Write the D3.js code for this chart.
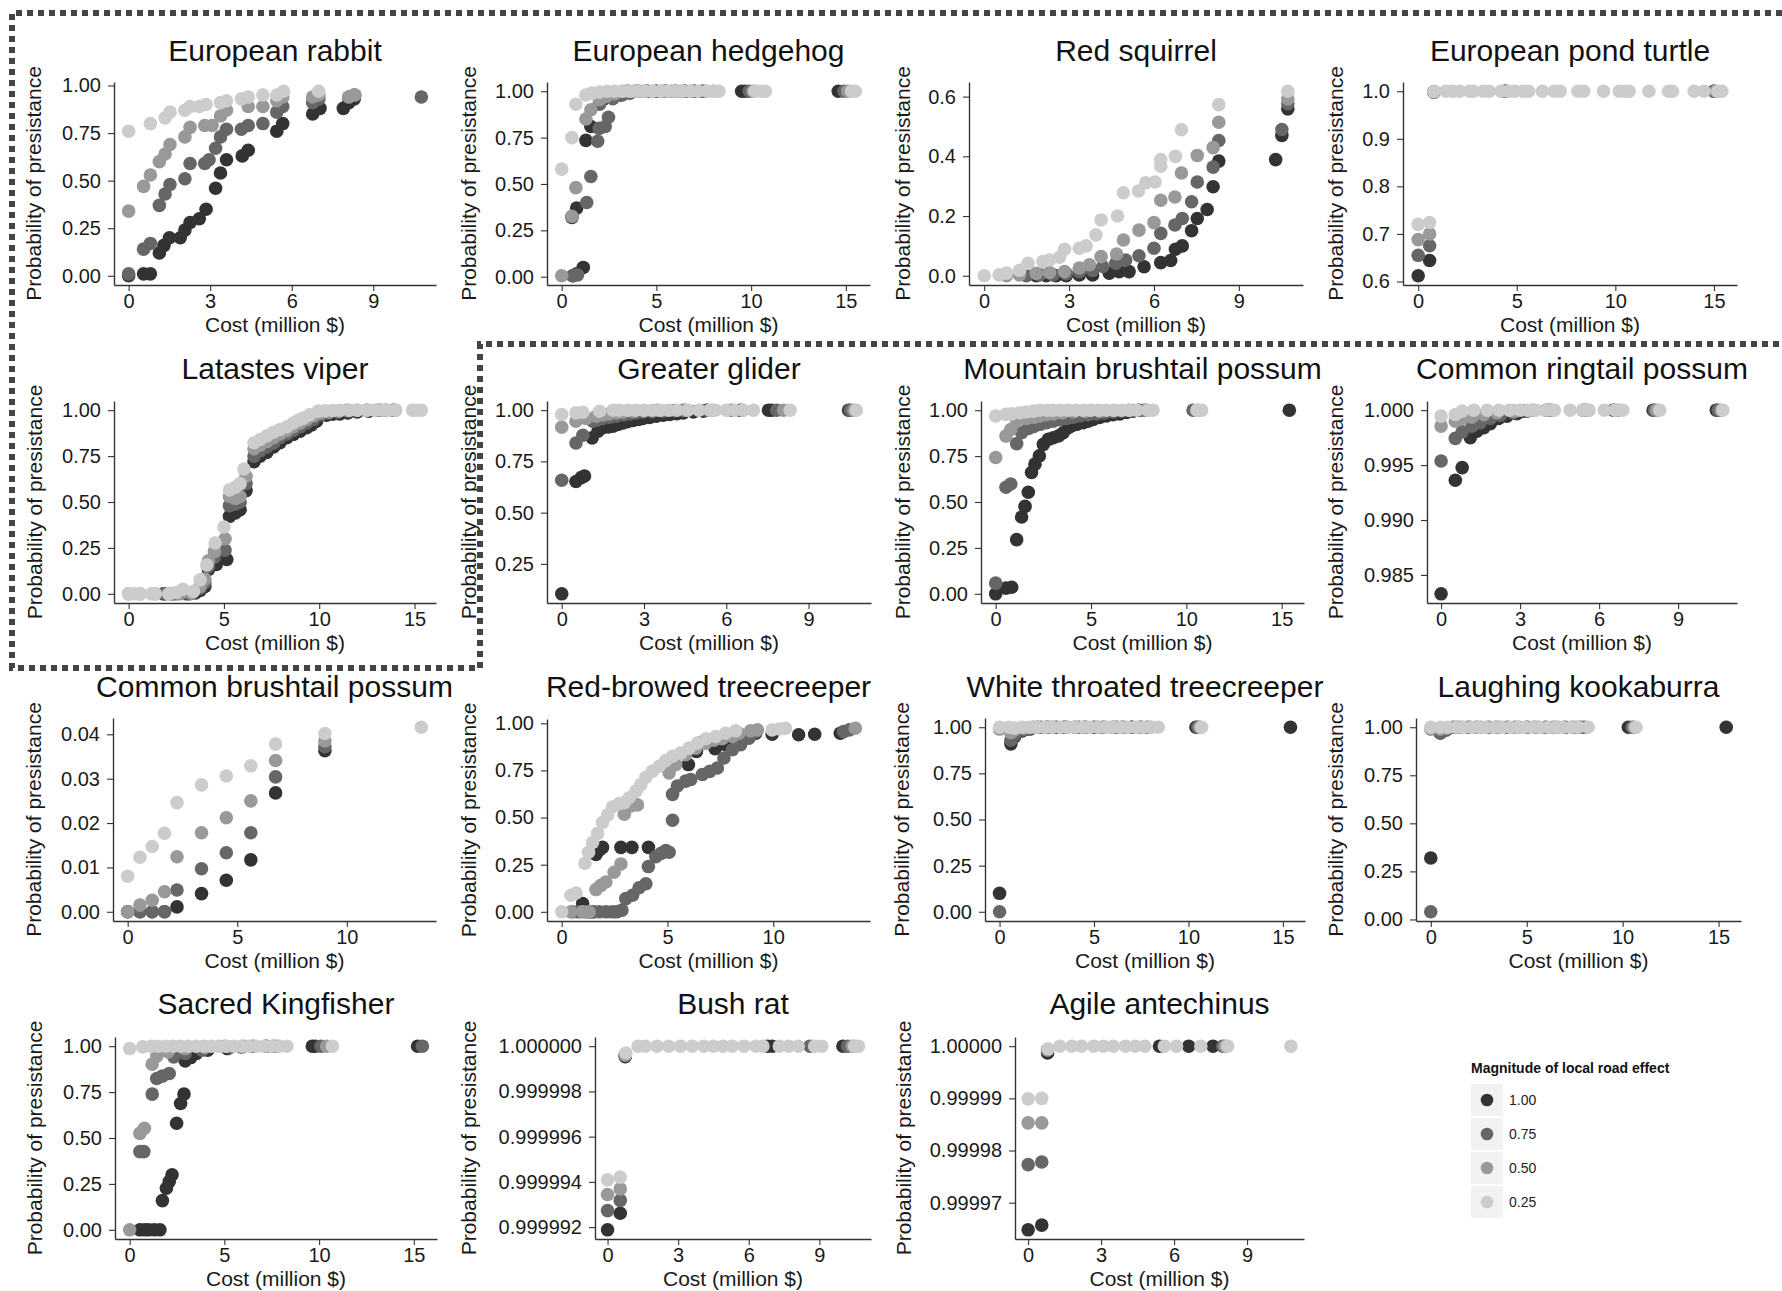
<!DOCTYPE html>
<html>
<head>
<meta charset="utf-8">
<script src="https://cdn.jsdelivr.net/npm/d3@7"></script>
<style>
    body { margin: 0; background: #fff; }
    svg { display: block; font-family: "Liberation Sans", Arial, sans-serif; }
</style>
</head>
<body>
<div id="chart"></div>
<script>

// ---- data: each species holds 4 series, in the order of the magnitudes below ----
const magnitudes = ["1.00", "0.75", "0.50", "0.25"];

const speciesNames = [
    "European rabbit", "European hedgehog", "Red squirrel", "European pond turtle",
    "Latastes viper", "Greater glider", "Mountain brushtail possum", "Common ringtail possum",
    "Common brushtail possum", "Red-browed treecreeper", "White throated treecreeper", "Laughing kookaburra",
    "Sacred Kingfisher", "Bush rat", "Agile antechinus"
];

const rabbit = [
    [[0,0.0],[0.55,0.01],[0.8,0.01],[1.13,0.12],[1.3,0.16],[1.5,0.2],[1.9,0.2],[2.07,0.24],[2.26,0.28],[2.6,0.3],[2.85,0.35],[3.2,0.46],[3.38,0.54],[3.6,0.61],[4.18,0.63],[4.4,0.66],[5.45,0.76],[5.67,0.8],[6.77,0.85],[7.04,0.88],[7.9,0.88],[8.1,0.91],[8.3,0.93]],
    [[0,0.01],[0.55,0.14],[0.8,0.17],[1.13,0.37],[1.34,0.43],[1.52,0.48],[2.07,0.51],[2.26,0.59],[2.8,0.59],[2.96,0.61],[3.2,0.67],[3.38,0.73],[3.6,0.77],[4.15,0.77],[4.4,0.79],[4.94,0.8],[5.45,0.86],[5.67,0.89],[6.77,0.91],[7.0,0.93],[8.1,0.94],[8.3,0.95],[10.77,0.94]],
    [[0,0.34],[0.55,0.47],[0.8,0.53],[1.13,0.6],[1.34,0.64],[1.52,0.69],[2.07,0.73],[2.26,0.78],[2.8,0.79],[3.07,0.79],[3.38,0.84],[3.6,0.87],[4.4,0.89],[4.94,0.89],[5.45,0.92],[5.67,0.94],[6.77,0.94],[7.0,0.95],[8.1,0.94],[8.33,0.95]],
    [[0,0.76],[0.8,0.8],[1.34,0.83],[1.52,0.86],[2.07,0.87],[2.26,0.89],[2.6,0.89],[2.85,0.9],[3.38,0.91],[3.6,0.92],[4.15,0.93],[4.4,0.94],[4.94,0.95],[5.45,0.95],[5.7,0.97],[6.99,0.97]]
];

const hedgehog = [
    [[0.58,0.005],[0.79,0.015],[1.14,0.05],[0.54,0.32],[0.79,0.37],[1.28,0.735],[1.54,0.81],[2.0,0.94],[2.25,0.96],[2.7,0.97],[3.1,0.98],[3.5,1],[4.0,1],[4.5,1],[5.0,1],[5.5,1],[6.0,1],[6.5,1],[7.0,1],[7.4,1],[9.5,1],[9.7,1],[14.6,1]],
    [[0.58,0.005],[0.84,0.01],[1.32,0.40],[1.54,0.54],[1.9,0.73],[1.98,0.80],[2.3,0.81],[2.47,0.86],[2.0,0.93],[2.7,0.96],[3.2,0.98],[3.6,0.99],[4.0,1],[4.5,1],[5.0,1],[5.5,1],[6.0,1],[6.5,1],[7.0,1],[7.5,1],[9.9,1],[14.9,1]],
    [[0,0.005],[0.54,0.325],[0.75,0.48],[1.28,0.85],[1.54,0.9],[2.0,0.955],[2.33,0.97],[2.8,0.985],[3.3,1],[3.8,1],[4.3,1],[4.8,1],[5.3,1],[5.8,1],[6.3,1],[6.8,1],[7.6,1],[8.0,1],[10.1,1],[15.1,1]],
    [[0,0.58],[0.54,0.75],[0.75,0.93],[1.28,0.98],[1.6,0.99],[2.0,0.995],[2.4,1],[2.8,1],[3.2,1],[3.6,1],[4.0,1],[4.4,1],[4.8,1],[5.2,1],[5.6,1],[6.0,1],[6.4,1],[6.8,1],[7.2,1],[7.7,1],[8.0,1],[8.3,1],[10.2,1],[10.5,1],[10.75,1],[15.3,1],[15.5,1]]
];

const squirrel = [
    [[1.84,0],[2.19,0],[2.54,0],[2.9,0],[3.36,0.003],[3.83,0.003],[4.42,0.009],[4.77,0.014],[5.12,0.014],[5.65,0.03],[6.24,0.044],[6.59,0.051],[6.76,0.089],[7.0,0.1],[7.33,0.151],[7.53,0.192],[7.88,0.222],[8.09,0.298],[8.29,0.384],[10.3,0.389],[10.52,0.47],[10.73,0.559]],
    [[1.49,0],[1.96,0.003],[2.43,0.003],[2.9,0.007],[3.36,0.014],[3.83,0.018],[4.19,0.031],[4.65,0.042],[5.0,0.053],[5.47,0.067],[6.0,0.092],[6.24,0.142],[6.74,0.17],[7.0,0.192],[7.33,0.248],[7.53,0.314],[8.09,0.364],[8.29,0.453],[10.52,0.49],[10.73,0.576]],
    [[0.79,0],[1.25,0.003],[1.84,0.008],[2.31,0.011],[2.84,0.014],[3.36,0.026],[3.72,0.037],[4.13,0.064],[4.68,0.073],[4.92,0.12],[5.47,0.153],[6.0,0.178],[6.24,0.253],[6.74,0.264],[6.97,0.344],[7.53,0.403],[8.09,0.429],[8.29,0.514],[10.73,0.592]],
    [[0,0],[0.53,0.003],[0.79,0.009],[1.25,0.018],[1.55,0.042],[2.07,0.048],[2.31,0.053],[2.66,0.062],[2.84,0.089],[3.36,0.092],[3.6,0.1],[3.95,0.137],[4.13,0.187],[4.71,0.2],[4.92,0.278],[5.45,0.284],[5.71,0.311],[6.04,0.314],[6.24,0.367],[6.24,0.389],[6.76,0.4],[6.97,0.489],[8.29,0.573],[10.73,0.618]]
];

const turtle = [
    [[0,0.612],[0.58,0.644],[0.8,0.998],[4.4,1],[15.0,1]],
    [[0,0.655],[0.58,0.675],[0.8,0.999],[4.4,1],[15.0,1]],
    [[0,0.688],[0.58,0.70],[0.8,0.999],[4.5,1],[15.1,1]],
    [[0,0.72],[0.58,0.724],[0.8,0.999],[1.4,1],[1.75,1],[2.1,1],[2.6,1],[2.8,1],[3.3,1],[3.6,1],[4.2,1],[4.6,1],[4.9,1],[5.3,1],[5.6,1],[6.3,1],[6.9,1],[7.2,1],[8.1,1],[8.4,1],[9.4,1],[10.2,1],[10.5,1],[10.7,1],[11.7,1],[12.7,1],[12.9,1],[14.0,1],[14.5,1],[15.2,1],[15.4,1]]
];

const viper = [
    [[1.83,0],[2.3,0],[3.05,0],[3.5,0.005],[3.75,0.018],[4.0,0.04],[4.19,0.133],[4.6,0.16],[5.15,0.187],[5.29,0.422],[5.6,0.44],[5.85,0.458],[6.16,0.562],[6.58,0.72],[6.9,0.75],[7.25,0.77],[7.6,0.8],[7.94,0.823],[8.3,0.85],[8.64,0.868],[9.0,0.885],[9.34,0.905],[9.6,0.92],[9.86,0.94],[10.38,0.973],[10.7,0.978],[11.08,0.98],[11.5,0.985],[12.0,0.99],[12.6,0.995],[13.2,1.0],[13.9,1]],
    [[1.9,0],[2.5,0],[3.2,0],[3.75,0.03],[4.0,0.06],[4.19,0.148],[4.5,0.2],[5.06,0.238],[5.29,0.48],[5.6,0.49],[5.85,0.5],[6.16,0.6],[6.58,0.75],[6.9,0.78],[7.25,0.8],[7.6,0.82],[7.94,0.85],[8.3,0.87],[8.64,0.89],[9.0,0.91],[9.34,0.93],[9.7,0.95],[10.1,0.975],[10.5,0.985],[11.0,0.99],[11.5,0.995],[12.5,1],[13.5,1]],
    [[0,0],[0.6,0],[1.4,0],[2.2,0],[2.7,0],[3.3,0.004],[3.75,0.04],[4.0,0.08],[4.19,0.18],[4.5,0.23],[5.06,0.3],[5.29,0.53],[5.6,0.52],[5.85,0.53],[6.16,0.64],[6.58,0.79],[6.9,0.81],[7.25,0.83],[7.6,0.85],[7.94,0.87],[8.3,0.89],[8.64,0.91],[9.0,0.93],[9.34,0.95],[9.7,0.97],[10.1,0.985],[10.5,0.99],[11.0,0.995],[11.5,1],[12.0,1],[12.5,1],[13.0,1],[13.5,1],[14.0,1]],
    [[0,0],[0.35,0],[0.6,0],[1.2,0],[1.4,0],[2.1,0],[2.5,0.007],[2.85,0.025],[3.4,0.013],[3.75,0.076],[4.1,0.157],[4.54,0.277],[5.0,0.364],[5.3,0.566],[5.6,0.58],[5.85,0.6],[6.05,0.68],[6.58,0.823],[6.9,0.84],[7.25,0.86],[7.6,0.88],[7.94,0.895],[8.3,0.91],[8.64,0.93],[8.9,0.945],[9.16,0.957],[9.5,0.975],[9.95,0.995],[10.3,0.997],[10.7,0.998],[11.1,1],[11.6,1],[12.0,1],[12.5,1],[12.9,1],[13.3,1],[13.6,1],[14.0,1],[14.9,1],[15.1,1],[15.36,1]]
];

const glider = [
    [[0,0.104],[0.52,0.652],[0.71,0.671],[0.83,0.679],[1.11,0.865],[1.32,0.898],[1.5,0.914],[1.7,0.918],[1.87,0.922],[2.05,0.93],[2.23,0.938],[2.4,0.944],[2.6,0.95],[2.8,0.955],[2.96,0.96],[3.2,0.965],[3.45,0.971],[3.7,0.975],[3.94,0.979],[4.2,0.983],[4.43,0.987],[4.8,0.991],[5.16,0.995],[5.28,1],[6.5,1],[7.54,1],[7.66,1],[10.46,1]],
    [[0,0.658],[0.52,0.84],[0.77,0.878],[1.13,0.946],[1.3,0.952],[1.5,0.96],[1.75,0.966],[1.99,0.971],[2.25,0.977],[2.48,0.982],[2.7,0.986],[2.96,0.99],[3.3,0.993],[3.7,0.995],[4.1,0.998],[4.43,1],[5.3,1],[6.2,1],[7.84,1],[10.52,1]],
    [[0,0.917],[0.52,0.946],[0.89,0.96],[1.26,0.971],[1.5,0.977],[1.74,0.982],[2.0,0.986],[2.23,0.99],[2.6,0.994],[3.0,0.997],[3.5,1],[4.5,1],[5.5,1],[6.6,1],[8.09,1],[10.65,1]],
    [[0,0.979],[0.52,0.987],[0.77,0.99],[1.38,0.995],[1.87,1],[2.1,1],[2.4,1],[2.7,1],[3.0,1],[3.3,1],[3.6,1],[3.9,1],[4.2,1],[4.6,1],[5.0,1],[5.4,1],[5.6,1],[6.0,1],[6.3,1],[6.6,1],[6.99,1],[8.33,1],[10.74,1]]
];

const mountainPossum = [
    [[0,0],[0.54,0.031],[0.84,0.036],[1.1,0.295],[1.36,0.418],[1.54,0.476],[1.71,0.553],[1.88,0.661],[2.06,0.706],[2.29,0.751],[2.5,0.814],[2.76,0.841],[3.02,0.85],[3.3,0.86],[3.54,0.877],[3.8,0.905],[4.0,0.915],[4.24,0.923],[4.59,0.932],[4.85,0.94],[5.11,0.95],[5.45,0.96],[5.81,0.968],[6.16,0.975],[6.51,0.98],[6.86,0.988],[7.21,0.995],[7.5,1],[15.4,1]],
    [[0,0.058],[0.54,0.58],[0.79,0.598],[1.1,0.818],[1.36,0.877],[1.71,0.9],[2.0,0.912],[2.32,0.923],[2.67,0.932],[3.02,0.94],[3.37,0.948],[3.72,0.955],[4.07,0.962],[4.42,0.968],[4.85,0.975],[5.29,0.98],[5.7,0.985],[6.16,0.99],[6.6,0.994],[7.1,0.997],[7.56,0.998],[7.8,1],[10.35,1]],
    [[0,0.742],[0.54,0.859],[0.79,0.895],[1.1,0.94],[1.62,0.955],[2.0,0.962],[2.32,0.968],[2.67,0.975],[3.02,0.98],[3.5,0.985],[4.07,0.99],[4.7,0.993],[5.46,0.995],[6.2,0.998],[7.0,1],[7.91,1],[10.6,1]],
    [[0,0.968],[0.54,0.977],[0.84,0.98],[1.27,0.986],[1.6,0.99],[1.97,0.995],[2.3,1],[2.7,1],[3.0,1],[3.4,1],[3.8,1],[4.2,1],[4.6,1],[5.0,1],[5.4,1],[5.8,1],[6.2,1],[6.6,1],[7.0,1],[7.4,1],[8.0,1],[8.25,1],[10.55,1],[10.8,1]]
];

const ringtail = [
    [[0,0.98328],[0.54,0.99362],[0.8,0.99477],[1.11,0.99749],[1.36,0.99809],[1.62,0.9984],[1.87,0.99876],[2.18,0.99924],[2.5,0.99946],[2.88,0.99967],[3.13,0.99991],[4.0,1],[5.4,1],[6.54,1],[8.05,1],[10.45,1]],
    [[0,0.99537],[0.54,0.99743],[0.8,0.99803],[1.17,0.99855],[1.49,0.99885],[1.87,0.99924],[2.25,0.99955],[2.75,0.99976],[3.26,0.99991],[4.1,1],[5.5,1],[6.6,1],[8.1,1],[10.52,1]],
    [[0,0.99855],[0.54,0.999],[0.8,0.99924],[1.17,0.99936],[1.62,0.9996],[2.12,0.99976],[2.75,0.99991],[3.5,1],[4.2,1],[5.6,1],[6.7,1],[8.18,1],[10.64,1]],
    [[0,0.99946],[0.54,0.99961],[0.8,0.99991],[1.24,1],[1.75,1],[2.2,1],[2.6,1],[3.0,1],[3.3,1],[3.6,1],[4.0,1],[4.3,1],[4.9,1],[5.4,1],[5.6,1],[6.2,1],[6.6,1],[6.9,1],[8.3,1],[10.7,1]]
];

const brushtail = [
    [[0,0],[0.56,0],[1.12,0],[1.68,0],[2.25,0.0011],[3.37,0.0041],[4.5,0.0071],[5.62,0.0117],[6.75,0.0268],[9.0,0.0363]],
    [[0,0],[0.56,0],[1.12,0],[1.68,0],[2.25,0.0049],[3.37,0.0097],[4.5,0.0133],[5.62,0.0178],[6.75,0.0304],[9.0,0.0372]],
    [[0,0],[0.56,0.0015],[1.12,0.0026],[1.68,0.0045],[2.25,0.0124],[3.37,0.0178],[4.5,0.0212],[5.62,0.025],[6.75,0.0341],[9.0,0.0385]],
    [[0,0.008],[0.56,0.0123],[1.12,0.0147],[1.68,0.0177],[2.25,0.0246],[3.37,0.0286],[4.5,0.0306],[5.62,0.0329],[6.75,0.0378],[9.0,0.0402],[13.4,0.0416]]
];

const redBrowed = [
    [[0.99,0.044],[1.3,0],[1.46,0],[1.62,0.304],[1.8,0.33],[1.93,0.342],[2.8,0.342],[3.32,0.342],[4.1,0.342],[5.99,0.781],[6.37,0.851],[6.65,0.9],[7.25,0.865],[7.75,0.886],[8.38,0.921],[9.17,0.947],[9.95,0.942],[11.2,0.939],[11.96,0.942],[13.17,0.947]],
    [[0.52,0],[0.8,0],[1.15,0],[1.5,0],[1.78,0],[2.1,0],[2.4,0],[2.6,0],[2.85,0.009],[3.03,0.07],[3.35,0.088],[3.66,0.128],[3.98,0.149],[4.1,0.24],[4.45,0.293],[4.7,0.31],[4.92,0.325],[5.08,0.316],[5.24,0.486],[5.24,0.623],[5.47,0.667],[5.86,0.693],[6.1,0.702],[6.65,0.728],[7.0,0.745],[7.36,0.763],[7.67,0.816],[8.07,0.86],[8.46,0.886],[8.85,0.921],[9.17,0.956],[13.33,0.956],[13.6,0.965]],
    [[0.44,0],[0.99,0],[1.3,0],[1.62,0.118],[1.85,0.14],[2.09,0.158],[2.48,0.21],[2.8,0.254],[2.96,0.518],[3.27,0.561],[3.58,0.567],[5.08,0.737],[5.39,0.781],[5.86,0.833],[6.34,0.868],[6.81,0.895],[7.2,0.91],[7.59,0.918],[8.07,0.93],[8.38,0.947],[8.93,0.96],[9.25,0.965],[13.88,0.974]],
    [[0,0],[0.44,0.088],[0.68,0.1],[1.1,0.258],[1.27,0.316],[1.46,0.368],[1.7,0.416],[1.93,0.474],[2.17,0.514],[2.4,0.556],[2.72,0.574],[2.96,0.579],[3.19,0.605],[3.51,0.64],[3.74,0.675],[3.98,0.714],[4.29,0.746],[4.61,0.772],[4.92,0.802],[5.24,0.825],[5.63,0.842],[6.02,0.868],[6.42,0.895],[6.81,0.918],[7.28,0.93],[7.75,0.947],[8.22,0.96],[9.95,0.965],[10.3,0.97],[10.58,0.974]]
];

const whiteThroated = [
    [[0,0.1],[0.6,0.91],[0.8,0.95],[1.2,0.98],[1.6,0.99],[2.0,1],[2.5,1],[3.0,1],[3.5,1],[4.0,1],[4.5,1],[5.0,1],[5.5,1],[6.0,1],[6.5,1],[7.0,1],[7.5,1],[10.4,1],[15.4,1]],
    [[0,0.0],[0.6,0.93],[0.8,0.96],[1.2,0.985],[1.6,0.995],[2.2,1],[2.8,1],[3.4,1],[4.2,1],[5.2,1],[6.2,1],[7.0,1],[7.8,1],[10.5,1]],
    [[0,0.99],[0.6,0.97],[0.8,0.985],[1.3,0.995],[1.8,1],[2.6,1],[3.6,1],[4.6,1],[5.6,1],[6.6,1],[7.4,1],[8.0,1],[10.6,1]],
    [[0,1],[0.5,1],[0.8,0.995],[1.2,1],[1.6,1],[2.0,1],[2.4,1],[2.8,1],[3.2,1],[3.6,1],[4.0,1],[4.4,1],[4.8,1],[5.2,1],[5.6,1],[6.0,1],[6.4,1],[6.8,1],[7.2,1],[7.6,1],[8.0,1],[8.4,1],[10.7,1]]
];

const kookaburra = [
    [[0,0.32],[0.5,0.97],[0.8,0.99],[1.2,1],[2.0,1],[3.0,1],[4.0,1],[5.0,1],[6.0,1],[7.0,1],[7.8,1],[10.3,1],[15.4,1]],
    [[0,0.04],[0.5,0.97],[0.8,0.985],[1.4,1],[2.4,1],[3.4,1],[4.4,1],[5.4,1],[6.4,1],[7.4,1],[8.0,1],[10.5,1]],
    [[0,0.99],[0.5,0.99],[0.8,0.995],[1.6,1],[2.6,1],[3.6,1],[4.6,1],[5.6,1],[6.6,1],[7.6,1],[10.6,1]],
    [[0,1],[0.5,1],[0.9,1],[1.3,1],[1.7,1],[2.1,1],[2.5,1],[2.9,1],[3.3,1],[3.7,1],[4.1,1],[4.5,1],[4.9,1],[5.3,1],[5.7,1],[6.1,1],[6.5,1],[6.9,1],[7.3,1],[7.7,1],[8.2,1],[10.7,1]]
];

const kingfisher = [
    [[0.54,0],[0.8,0],[1.0,0],[1.3,0],[1.6,0],[1.73,0.159],[1.94,0.226],[2.09,0.263],[2.24,0.3],[2.48,0.58],[2.69,0.688],[2.87,0.739],[2.93,0.92],[3.22,0.938],[3.52,0.96],[4.12,0.978],[5.16,0.987],[5.9,0.996],[7.2,1],[9.64,1],[9.8,1],[15.2,1]],
    [[0.54,0.426],[0.75,0.426],[1.19,0.739],[1.43,0.824],[1.73,0.837],[2.09,0.851],[2.33,0.942],[2.93,0.96],[3.82,0.978],[5.31,0.993],[6.5,1],[7.6,1],[10.1,1],[15.45,1]],
    [[0,0],[0.54,0.525],[0.78,0.553],[1.19,0.902],[1.43,0.946],[2.03,0.969],[2.93,0.987],[4.0,0.995],[5.0,1],[6.0,1],[7.2,1],[7.8,1],[10.4,1]],
    [[0,0.987],[0.69,0.996],[1.13,1],[1.5,1],[1.9,1],[2.3,1],[2.7,1],[3.1,1],[3.5,1],[3.9,1],[4.3,1],[4.7,1],[5.1,1],[5.5,1],[5.9,1],[6.3,1],[6.7,1],[7.1,1],[7.5,1],[7.9,1],[8.3,1],[10.7,1]]
];

const bushRat = [
    [[0,0.99999188],[0.54,0.99999261],[0.75,0.99999953],[6.8,1],[7.0,1],[10.0,1]],
    [[0,0.99999273],[0.54,0.99999318],[0.75,0.9999996],[8.6,1],[10.2,1]],
    [[0,0.99999344],[0.54,0.99999369],[0.75,0.9999996],[10.4,1]],
    [[0,0.99999409],[0.54,0.99999421],[0.78,0.9999997],[1.3,1],[1.6,1],[2.1,1],[2.6,1],[3.1,1],[3.6,1],[4.1,1],[4.5,1],[4.9,1],[5.3,1],[5.8,1],[6.3,1],[6.6,1],[7.3,1],[7.7,1],[8.1,1],[8.8,1],[9.1,1],[10.5,1],[10.66,1]]
];

const antechinus = [
    [[0,0.9999648],[0.56,0.9999657],[0.8,0.9999987],[5.4,1],[6.6,1],[7.6,1]],
    [[0,0.9999773],[0.56,0.9999778],[0.8,0.9999993],[8.0,1]],
    [[0,0.9999853],[0.56,0.9999853],[0.8,0.9999993],[8.1,1]],
    [[0,0.9999899],[0.56,0.99999],[0.82,0.9999995],[1.3,1],[1.8,1],[2.2,1],[2.7,1],[3.1,1],[3.5,1],[4.0,1],[4.4,1],[4.8,1],[5.6,1],[6.1,1],[7.1,1],[8.2,1],[10.8,1]]
];

const speciesData = [rabbit, hedgehog, squirrel, turtle, viper, glider, mountainPossum, ringtail,
    brushtail, redBrowed, whiteThroated, kookaburra, kingfisher, bushRat, antechinus];

// tick values per panel
const xTicks = [
    [0,3,6,9], [0,5,10,15], [0,3,6,9], [0,5,10,15],
    [0,5,10,15], [0,3,6,9], [0,5,10,15], [0,3,6,9],
    [0,5,10], [0,5,10], [0,5,10,15], [0,5,10,15],
    [0,5,10,15], [0,3,6,9], [0,3,6,9]
];
const yTicks = [
    [0,0.25,0.5,0.75,1], [0,0.25,0.5,0.75,1], [0,0.2,0.4,0.6], [0.6,0.7,0.8,0.9,1.0],
    [0,0.25,0.5,0.75,1], [0.25,0.5,0.75,1], [0,0.25,0.5,0.75,1], [0.985,0.99,0.995,1],
    [0,0.01,0.02,0.03,0.04], [0,0.25,0.5,0.75,1], [0,0.25,0.5,0.75,1], [0,0.25,0.5,0.75,1],
    [0,0.25,0.5,0.75,1], [0.999992,0.999994,0.999996,0.999998,1], [0.99997,0.99998,0.99999,1]
];
const yFormats = [".2f", ".2f", ".1f", ".1f", ".2f", ".2f", ".2f", ".3f",
    ".2f", ".2f", ".2f", ".2f", ".2f", ".6f", ".5f"];


// ---- layout ----
const W = 1782, H = 1291;
const shades = ["#333333", "#666666", "#999999", "#cccccc"];

// plot area of each panel: [left, top, right, bottom]
const plotBoxes = [
    [114, 82, 436, 285], [547, 82, 870, 285], [969, 82, 1303, 285], [1403, 82, 1737, 285],
    [114, 401, 436, 603], [547, 401, 871, 603], [981, 401, 1304, 603], [1427, 401, 1737, 603],
    [113, 718, 436, 921], [547, 719, 870, 921], [985, 718, 1305, 921], [1416, 718, 1741, 921],
    [115, 1037, 437, 1239], [595, 1037, 871, 1239], [1015, 1037, 1304, 1239]
];
const yTitleX = [33, 468, 902, 1335, 34, 468, 902, 1335, 33, 468, 901, 1335, 34, 468, 903];
const titleBase = [61, 379, 697, 1014];

const svg = d3.select("#chart").append("svg")
    .attr("width", W)
    .attr("height", H);

svg.append("rect")
    .attr("width", W)
    .attr("height", H)
    .style("fill", "#fff");

speciesData.forEach(function (series, i) {
    let box = plotBoxes[i];
    let row = Math.floor(i / 4);
    let all = d3.merge(series);

    // ggplot-like 5% expansion around the data
    let xExt = d3.extent(all, d => d[0]);
    let yExt = d3.extent(all, d => d[1]);
    let xPad = (xExt[1] - xExt[0]) * 0.05;
    let yPad = (yExt[1] - yExt[0]) * 0.05;

    let x = d3.scaleLinear()
        .domain([xExt[0] - xPad, xExt[1] + xPad])
        .range([box[0], box[2]]);
    let y = d3.scaleLinear()
        .domain([yExt[0] - yPad, yExt[1] + yPad])
        .range([box[3], box[1]]);

    let g = svg.append("g").attr("class", "panel");

    // points, darkest first so lighter ones sit on top
    series.forEach(function (pts, k) {
        g.selectAll(".pt" + k)
            .data(pts)
            .enter().append("circle")
            .attr("class", "pt" + k)
            .attr("cx", d => x(d[0]))
            .attr("cy", d => y(d[1]))
            .attr("r", 6.8)
            .style("fill", shades[k]);
    });

    // axes
    let yAxis = d3.axisLeft(y)
        .tickValues(yTicks[i])
        .tickFormat(d3.format(yFormats[i]))
        .tickSize(6)
        .tickSizeOuter(0)
        .tickPadding(7);
    let xAxis = d3.axisBottom(x)
        .tickValues(xTicks[i])
        .tickFormat(d3.format("d"))
        .tickSize(6)
        .tickSizeOuter(0)
        .tickPadding(3);

    let ya = g.append("g")
        .attr("transform", "translate(" + box[0] + ",0)")
        .call(yAxis);
    let xa = g.append("g")
        .attr("transform", "translate(0," + box[3] + ")")
        .call(xAxis);

    [ya, xa].forEach(function (a) {
        a.select(".domain").style("stroke", "#333").style("stroke-width", 1.4);
        a.selectAll(".tick line").style("stroke", "#333").style("stroke-width", 1.1);
        a.selectAll(".tick text")
            .style("font-size", "20px")
            .style("font-family", "'Liberation Sans', Arial, sans-serif")
            .style("fill", "#1a1a1a");
    });

    // titles
    g.append("text")
        .attr("x", (box[0] + box[2]) / 2)
        .attr("y", titleBase[row])
        .style("text-anchor", "middle")
        .style("font-size", "30px")
        .style("fill", "#111")
        .text(speciesNames[i]);

    g.append("text")
        .attr("x", (box[0] + box[2]) / 2)
        .attr("y", box[3] + 47)
        .style("text-anchor", "middle")
        .style("font-size", "21px")
        .style("fill", "#1a1a1a")
        .text("Cost (million $)");

    g.append("text")
        .attr("transform", "translate(" + yTitleX[i] + "," + ((box[1] + box[3]) / 2) + ") rotate(-90)")
        .attr("dy", "0.36em")
        .style("text-anchor", "middle")
        .style("font-size", "21px")
        .style("fill", "#1a1a1a")
        .text("Probability of presistance");
});

// legend
let legend = svg.append("g")
    .attr("transform", "translate(1471,1073)");

legend.append("text")
    .attr("x", 0)
    .attr("y", 0)
    .style("font-size", "14px")
    .style("font-weight", "700")
    .style("fill", "#111")
    .text("Magnitude of local road effect");

magnitudes.forEach(function (m, k) {
    let cy = 27 + k * 34;
    legend.append("rect")
        .attr("x", 0)
        .attr("y", cy - 16)
        .attr("width", 32)
        .attr("height", 32)
        .style("fill", "#f2f2f2");
    legend.append("circle")
        .attr("cx", 16)
        .attr("cy", cy)
        .attr("r", 6.3)
        .style("fill", shades[k]);
    legend.append("text")
        .attr("x", 38)
        .attr("y", cy + 5)
        .style("font-size", "14px")
        .style("fill", "#222")
        .text(m);
});

// dashed outline grouping the European species
svg.append("path")
    .attr("d", "M1782,13 H12 V668 H480 V344 H1782")
    .style("fill", "none")
    .style("stroke", "#444")
    .style("stroke-width", 6)
    .style("stroke-dasharray", "6,5");

</script>
</body>
</html>
